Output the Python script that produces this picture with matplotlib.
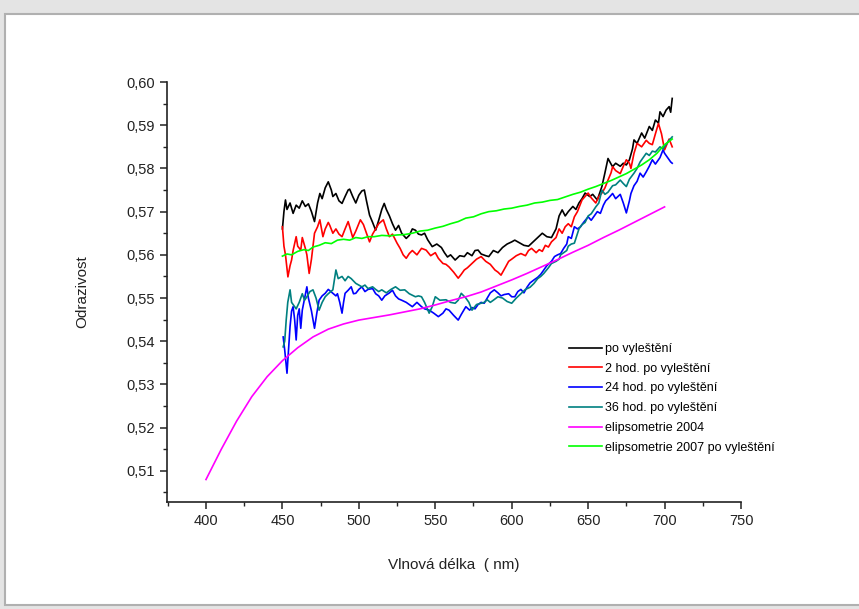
import matplotlib
matplotlib.use("Agg")
import matplotlib.pyplot as plt
from matplotlib.patches import Rectangle
from matplotlib.ticker import MultipleLocator, FuncFormatter

plt.rcParams['font.family'] = ['Liberation Sans', 'DejaVu Sans']

# po vyleštění (black)
wl_black = [450, 451, 452, 453, 455, 457, 459, 461, 463, 465, 467, 469, 471, 473, 474.5, 476, 478, 480,
            482, 483, 485, 487, 489, 491, 493, 494, 496, 498, 500, 502, 503.6, 505, 507, 509, 511, 513,
            515, 516.6, 518, 520, 522, 524, 526, 528, 531, 533, 535, 537, 539, 541, 543, 545, 548, 551,
            554, 556, 558, 560, 563, 566, 569, 571, 574, 576, 578, 580, 583, 585, 588, 591, 594, 597,
            600, 602, 605, 608, 611, 614, 617, 620, 623, 626, 629, 631, 633, 635, 637, 640, 642, 644,
            646, 648, 651, 653, 656, 659, 661, 663, 665, 666, 668, 671, 673, 675, 677, 679, 680, 682,
            685, 687, 690, 692, 694, 696, 697, 699, 701, 703, 704, 705]
val_black = [0.5660, 0.5700, 0.5727, 0.5705, 0.5720, 0.5696, 0.5715, 0.5708, 0.5725, 0.5712, 0.5718,
             0.5700, 0.5677, 0.5720, 0.5742, 0.5730, 0.5755, 0.5769, 0.5750, 0.5735, 0.5742, 0.5725,
             0.5719, 0.5735, 0.5750, 0.5752, 0.5735, 0.5720, 0.5738, 0.5748, 0.5750, 0.5725, 0.5692,
             0.5675, 0.5657, 0.5680, 0.5705, 0.5719, 0.5705, 0.5690, 0.5672, 0.5657, 0.5668, 0.5650,
             0.5638, 0.5645, 0.5660, 0.5657, 0.5648, 0.5646, 0.5650, 0.5635, 0.5619, 0.5625, 0.5617,
             0.5605, 0.5595, 0.5600, 0.5588, 0.5598, 0.5596, 0.5605, 0.5598, 0.5610, 0.5611, 0.5602,
             0.5598, 0.5596, 0.5610, 0.5605, 0.5617, 0.5625, 0.5630, 0.5634, 0.5628, 0.5622, 0.5620,
             0.5630, 0.5640, 0.5650, 0.5642, 0.5640, 0.5660, 0.5690, 0.5704, 0.5690, 0.5700, 0.5712,
             0.5705, 0.5720, 0.5730, 0.5743, 0.5735, 0.5740, 0.5727, 0.5758, 0.5790, 0.5823, 0.5810,
             0.5804, 0.5812, 0.5805, 0.5812, 0.5808, 0.5820, 0.5845, 0.5866, 0.5858, 0.5882, 0.5870,
             0.5897, 0.5888, 0.5912, 0.5905, 0.5931, 0.5920, 0.5935, 0.5943, 0.5930, 0.5962]

# 2 hod. po vyleštění (red)
wl_red = [450, 451, 452, 453.6, 455, 456, 457, 459, 460, 462, 463, 465, 466, 467.5, 469, 471, 473,
          474.5, 476.5, 478, 480, 481, 483, 485, 487, 489, 491, 493, 494, 496, 498, 501, 503, 505,
          507, 509, 511, 513, 516, 518, 520, 522, 525, 527, 529, 531, 533, 535, 538, 541, 544, 547,
          550, 552, 555, 557, 559, 562, 565, 567, 569, 571, 574, 577, 580, 583, 586, 589, 591, 593,
          596, 598, 600, 603, 606, 609, 611, 613, 616, 618, 620, 622, 624, 626, 629, 631, 633, 635,
          637, 639, 641, 643, 646, 648, 650, 652, 655, 657, 659, 661, 663, 665, 666, 668, 671, 673,
          675, 677, 678, 680, 682, 685, 688, 690, 692, 694, 696, 698, 700, 702, 703, 705]
val_red = [0.5665, 0.5620, 0.5600, 0.5549, 0.5575, 0.5588, 0.5610, 0.5642, 0.5620, 0.5611, 0.5640,
           0.5615, 0.5600, 0.5557, 0.5590, 0.5650, 0.5665, 0.5681, 0.5642, 0.5660, 0.5675, 0.5668,
           0.5650, 0.5660, 0.5648, 0.5642, 0.5660, 0.5677, 0.5665, 0.5640, 0.5655, 0.5681, 0.5670,
           0.5650, 0.5630, 0.5648, 0.5660, 0.5672, 0.5681, 0.5660, 0.5642, 0.5648, 0.5627, 0.5615,
           0.5600, 0.5592, 0.5603, 0.5610, 0.5600, 0.5615, 0.5611, 0.5598, 0.5605, 0.5592, 0.5580,
           0.5578, 0.5572, 0.5560, 0.5546, 0.5555, 0.5565, 0.5570, 0.5580, 0.5590, 0.5596, 0.5585,
           0.5578, 0.5565, 0.5560, 0.5553, 0.5572, 0.5585, 0.5590, 0.5598, 0.5603, 0.5598, 0.5610,
           0.5615, 0.5605, 0.5612, 0.5608, 0.5622, 0.5618, 0.5630, 0.5640, 0.5660, 0.5650, 0.5665,
           0.5672, 0.5665, 0.5688, 0.5700, 0.5727, 0.5735, 0.5743, 0.5732, 0.5720, 0.5735, 0.5743,
           0.5755, 0.5773, 0.5790, 0.5804, 0.5795, 0.5788, 0.5805, 0.5820, 0.5812, 0.5800, 0.5835,
           0.5858, 0.5850, 0.5865, 0.5858, 0.5855, 0.5880, 0.5904, 0.5880, 0.5843, 0.5860, 0.5868,
           0.5850]

# 24 hod. po vyleštění (blue)
wl_blue = [450.5, 451.5, 453, 454, 455, 456, 457, 458, 459, 460, 461, 462, 463, 464, 466, 467, 469,
           471, 472.5, 474, 476, 478, 480, 483, 485, 486, 487.5, 489, 490, 491, 493, 495, 496.5, 498,
           500, 502, 504, 506, 509, 511, 513, 515, 517, 520, 522, 524, 526, 528, 531, 533, 535, 538,
           541, 543, 546, 549, 552, 555, 557, 559, 562, 565, 567, 570, 572.5, 574, 576, 578, 580, 582,
           584, 586, 588.6, 591, 593, 595, 598, 600, 602, 604, 606, 608, 610, 612, 614.6, 617, 619,
           621, 623, 626, 628, 630, 632, 634, 636, 637, 639, 641, 643, 645, 647, 650, 652, 654, 656,
           658, 660, 661.5, 663, 666, 668, 671, 673, 675, 677, 678, 680, 682, 684, 686, 688, 690, 692,
           694, 697, 699, 700, 702, 704, 705]
val_blue = [0.5410, 0.5380, 0.5326, 0.5380, 0.5434, 0.5470, 0.5480, 0.5450, 0.5403, 0.5460, 0.5475,
            0.5430, 0.5472, 0.5490, 0.5526, 0.5500, 0.5470, 0.5430, 0.5465, 0.5495, 0.5505, 0.5511,
            0.5520, 0.5511, 0.5505, 0.5510, 0.5490, 0.5465, 0.5490, 0.5511, 0.5518, 0.5526, 0.5510,
            0.5511, 0.5520, 0.5526, 0.5515, 0.5520, 0.5522, 0.5510, 0.5505, 0.5495, 0.5505, 0.5512,
            0.5518, 0.5505, 0.5498, 0.5495, 0.5490, 0.5485, 0.5480, 0.5490, 0.5480, 0.5475, 0.5472,
            0.5465, 0.5457, 0.5465, 0.5475, 0.5472, 0.5460, 0.5449, 0.5462, 0.5480, 0.5472, 0.5478,
            0.5475, 0.5485, 0.5490, 0.5488, 0.5500, 0.5512, 0.5519, 0.5512, 0.5505, 0.5508, 0.5510,
            0.5503, 0.5503, 0.5515, 0.5520, 0.5512, 0.5525, 0.5535, 0.5542, 0.5548, 0.5555, 0.5565,
            0.5575, 0.5585, 0.5596, 0.5600, 0.5603, 0.5615, 0.5625, 0.5642, 0.5638, 0.5665, 0.5660,
            0.5665, 0.5675, 0.5688, 0.5680, 0.5690, 0.5700, 0.5696, 0.5715, 0.5725, 0.5730, 0.5742,
            0.5730, 0.5740, 0.5720, 0.5697, 0.5725, 0.5742, 0.5760, 0.5770, 0.5789, 0.5780, 0.5792,
            0.5805, 0.5820, 0.5810, 0.5825, 0.5843, 0.5835, 0.5825, 0.5815, 0.5812]

# 36 hod. po vyleštění (teal)
wl_teal = [450.5, 451.5, 452.5, 453.5, 455, 456, 457, 459, 461, 463, 464.5, 466, 468, 470, 472, 474,
           476, 478, 480, 483, 485, 486.5, 489, 491, 493, 495, 498, 500, 502, 504, 506, 509, 511, 513,
           515, 518, 521, 524, 527, 530, 533, 537, 539, 541, 543, 546, 548, 550, 553, 557, 560, 563,
           565, 567, 570, 572, 574, 577, 580, 582, 584, 586, 588, 591, 594, 597, 600, 603, 606, 609,
           612, 614.6, 617, 619, 621, 624, 626, 629, 631, 632, 634, 636, 637, 639, 641, 644, 646, 648,
           650, 652, 655, 657, 659, 661, 663, 666, 668, 671, 673, 675, 677, 680, 682, 684, 686, 688,
           690, 692, 694, 697, 699, 701, 703, 705]
val_teal = [0.5387, 0.5400, 0.5450, 0.5490, 0.5519, 0.5490, 0.5485, 0.5475, 0.5490, 0.5510, 0.5495,
            0.5503, 0.5515, 0.5519, 0.5500, 0.5472, 0.5490, 0.5503, 0.5510, 0.5519, 0.5565, 0.5545,
            0.5550, 0.5540, 0.5550, 0.5545, 0.5534, 0.5530, 0.5526, 0.5530, 0.5522, 0.5526, 0.5520,
            0.5515, 0.5519, 0.5512, 0.5520, 0.5526, 0.5518, 0.5519, 0.5510, 0.5503, 0.5505, 0.5503,
            0.5490, 0.5465, 0.5480, 0.5503, 0.5495, 0.5496, 0.5490, 0.5488, 0.5495, 0.5511, 0.5500,
            0.5490, 0.5472, 0.5485, 0.5488, 0.5490, 0.5496, 0.5490, 0.5495, 0.5503, 0.5500, 0.5492,
            0.5488, 0.5500, 0.5510, 0.5520, 0.5525, 0.5534, 0.5545, 0.5550, 0.5557, 0.5570, 0.5580,
            0.5585, 0.5590, 0.5600, 0.5605, 0.5610, 0.5620, 0.5625, 0.5627, 0.5660, 0.5670, 0.5675,
            0.5690, 0.5695, 0.5711, 0.5720, 0.5750, 0.5740, 0.5745, 0.5760, 0.5762, 0.5773, 0.5765,
            0.5758, 0.5775, 0.5789, 0.5800, 0.5815, 0.5825, 0.5835, 0.5830, 0.5840, 0.5838, 0.5850,
            0.5845, 0.5855, 0.5865, 0.5873]

# elipsometrie 2004 (magenta)
wl_mag = [400, 410, 420, 430, 440, 450, 460, 470, 480, 490, 500, 510, 520, 530, 540, 550, 560, 570,
          580, 590, 600, 610, 620, 630, 640, 650, 660, 670, 680, 690, 700]
val_mag = [0.5080, 0.5150, 0.5215, 0.5272, 0.5318, 0.5355, 0.5385, 0.5410, 0.5428, 0.5440, 0.5449,
           0.5455, 0.5461, 0.5468, 0.5475, 0.5484, 0.5494, 0.5503, 0.5514, 0.5528, 0.5542, 0.5557,
           0.5573, 0.5589, 0.5606, 0.5622, 0.5640, 0.5657, 0.5675, 0.5693, 0.5711]

# elipsometrie 2007 po vyleštění (green)
wl_green = [450, 453, 456, 460, 464, 467, 470, 474, 478, 482, 486, 490, 494, 498, 502, 506, 510, 515,
            520, 525, 530, 535, 540, 545, 550, 555, 560, 565, 570, 575, 580, 585, 590, 595, 600, 605,
            610, 615, 620, 625, 630, 635, 640, 645, 650, 655, 660, 665, 670, 675, 680, 685, 690, 695,
            700, 705]
val_green = [0.5597, 0.5602, 0.5600, 0.5608, 0.5612, 0.5610, 0.5618, 0.5622, 0.5628, 0.5626, 0.5634,
             0.5636, 0.5634, 0.5640, 0.5638, 0.5642, 0.5642, 0.5645, 0.5644, 0.5646, 0.5647, 0.5650,
             0.5655, 0.5657, 0.5662, 0.5666, 0.5672, 0.5677, 0.5685, 0.5688, 0.5695, 0.5700, 0.5702,
             0.5706, 0.5708, 0.5712, 0.5715, 0.5720, 0.5722, 0.5726, 0.5728, 0.5734, 0.5740, 0.5745,
             0.5752, 0.5758, 0.5765, 0.5772, 0.5780, 0.5788, 0.5798, 0.5808, 0.5820, 0.5835, 0.5855,
             0.5868]

fig = plt.figure(figsize=(8.59, 6.09), dpi=100)
fig.patch.set_facecolor('#e4e4e4')
# white page behind the axes
page = Rectangle((5 / 859, 4 / 609), 1.0, 1 - 18 / 609, transform=fig.transFigure,
                 facecolor='white', edgecolor='#b0b0b0', linewidth=1.5, zorder=-5)
fig.add_artist(page)

ax = fig.add_axes([167 / 859, 1 - 502 / 609, (741 - 167) / 859, (502 - 82) / 609])
ax.set_facecolor('none')

ax.plot(wl_black, val_black, color='black', lw=1.2, label='po vyleštění')
ax.plot(wl_red, val_red, color='#ff0000', lw=1.2, label='2 hod. po vyleštění')
ax.plot(wl_blue, val_blue, color='#0000ff', lw=1.2, label='24 hod. po vyleštění')
ax.plot(wl_teal, val_teal, color='#008080', lw=1.2, label='36 hod. po vyleštění')
ax.plot(wl_mag, val_mag, color='#ff00ff', lw=1.2, label='elipsometrie 2004')
ax.plot(wl_green, val_green, color='#00ff00', lw=1.2, label='elipsometrie 2007 po vyleštění')

ax.set_xlim(374.5, 750)
ax.set_ylim(0.5028, 0.60)
ax.xaxis.set_major_locator(MultipleLocator(50))
ax.xaxis.set_minor_locator(MultipleLocator(25))
ax.yaxis.set_major_locator(MultipleLocator(0.01))
ax.yaxis.set_minor_locator(MultipleLocator(0.005))
ax.yaxis.set_major_formatter(FuncFormatter(lambda v, p: f"{v:.2f}".replace('.', ',')))

for s in ['top', 'right']:
    ax.spines[s].set_visible(False)
for s in ['left', 'bottom']:
    ax.spines[s].set_linewidth(1.2)
    ax.spines[s].set_color('#222222')
ax.tick_params(which='major', direction='out', length=5, width=1.1, labelsize=10.5, colors='#222222')
ax.tick_params(which='minor', direction='out', length=3, width=1.0, colors='#222222')

ax.set_xlabel('Vlnová délka  ( nm)', fontsize=11, color='#222222', labelpad=22)
ax.set_ylabel('Odrazivost', fontsize=11, color='#222222', labelpad=27)

ax.legend(loc='upper left', bbox_to_anchor=(569 / 859, 1 - 343 / 609), bbox_transform=fig.transFigure,
          frameon=False, fontsize=9, handlelength=2.6, handletextpad=0.3, labelspacing=0.62,
          borderpad=0, borderaxespad=0)

fig.savefig('out.png', dpi=100, facecolor=fig.get_facecolor())
